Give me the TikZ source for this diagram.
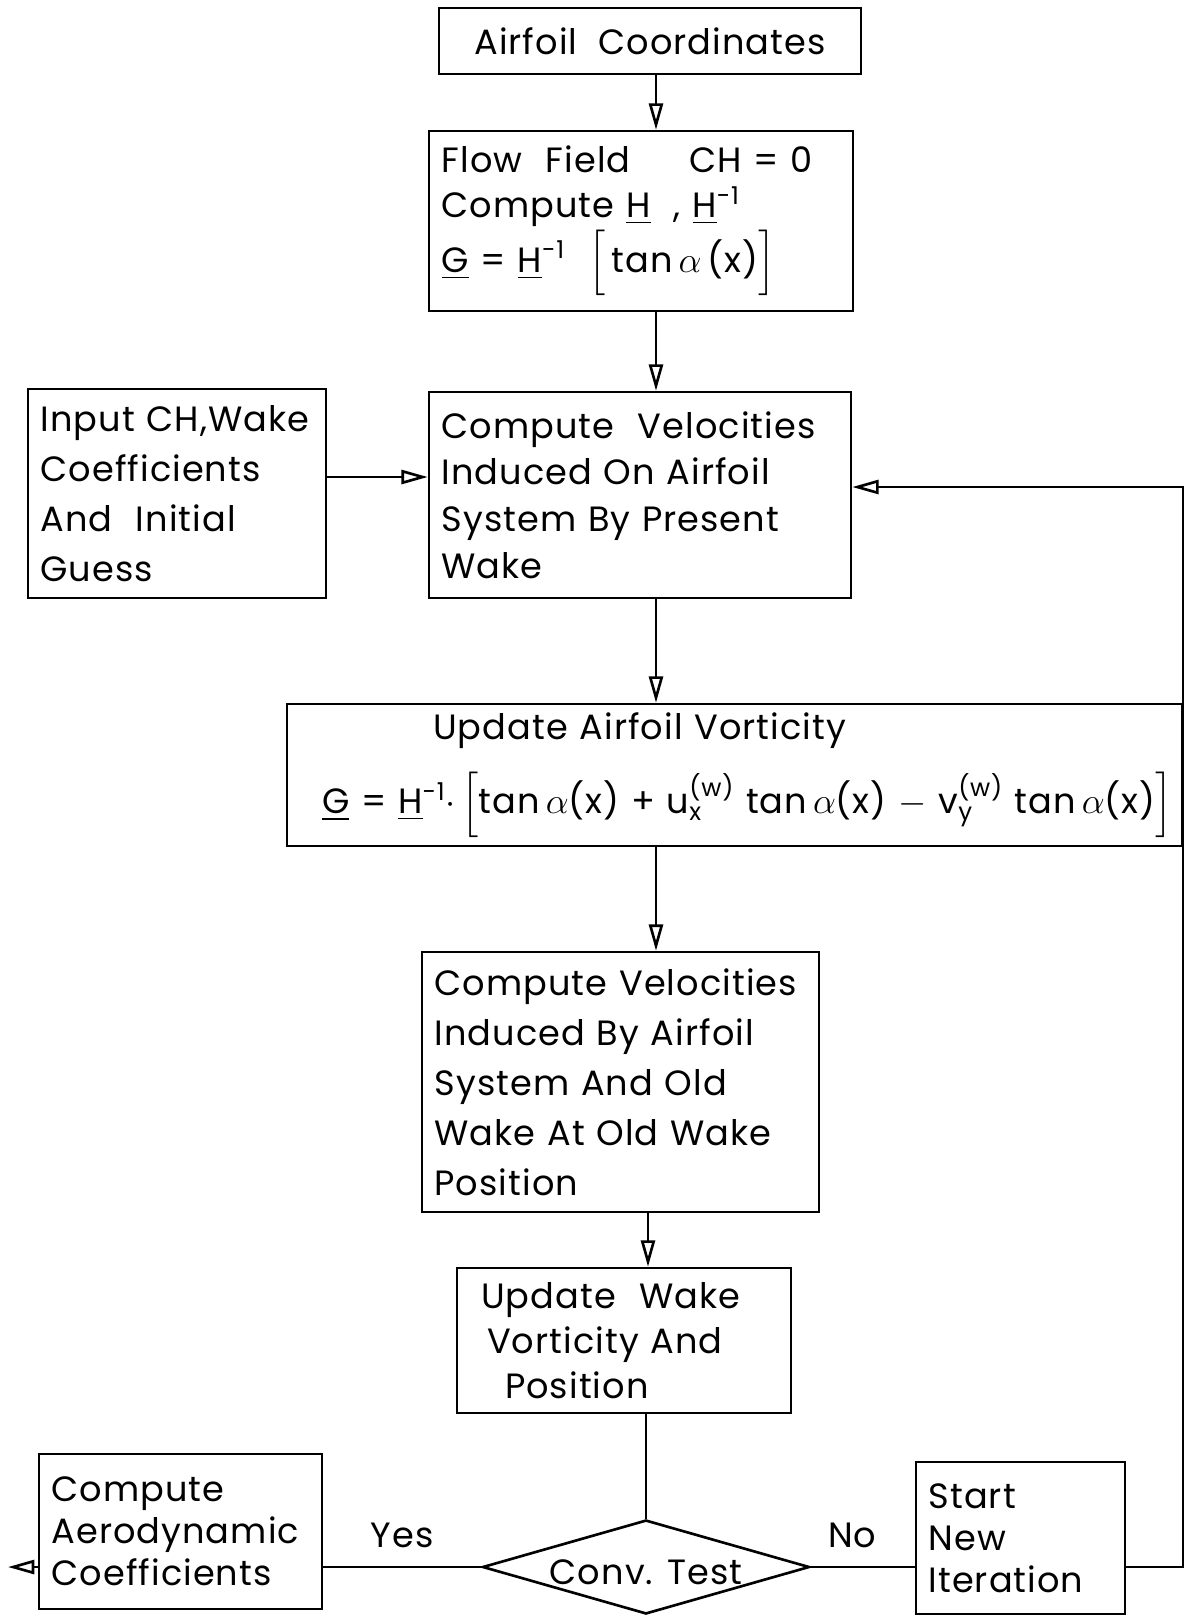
\documentclass[tikz,border=0pt]{standalone}
\usepackage{fontspec}
\usepackage{amsmath}
\setmainfont[LetterSpace=3]{Poppins}
\usetikzlibrary{arrows.meta, positioning, shapes.geometric}

\tikzset{
  box/.style={draw, line width=1.5pt, inner xsep=0.25cm, inner ysep=0pt,
    align=left, font=\fontsize{20}{28.5}\selectfont},
  decision/.style={draw, diamond, line width=1.5pt, inner sep=0pt},
  link/.style={line width=1.5pt},
  arr/.style={link, -{Triangle[open, length=15pt, width=8pt]}},
  tag/.style={font=\fontsize{20}{24}\selectfont}
}

\begin{document}
\begin{tikzpicture}[x=0.02cm, y=-0.02cm]
  \useasboundingbox (0,0) rectangle (1185,1617);

  % boxes
  \node[box, align=center, minimum width=8.44cm, minimum height=1.32cm]
    (coords) at (650,41) {Airfoil \ Coordinates};
  \node[box, minimum width=8.48cm, minimum height=3.6cm, text width=7.98cm,
    font=\fontsize{20}{25.5}\selectfont] (flow) at (641,221)
    {Flow \ Field \ \ \ \ CH = 0\\
     Compute \underline{H} \ , \underline{H}\textsuperscript{-1}\\[1pt]
     \underline{G} = \underline{H}\textsuperscript{-1} \ $\Big[$\,tan\,$\alpha$\,(x)$\Big]$};
  \node[box, minimum width=5.96cm, minimum height=4.18cm, text width=5.46cm]
    (input) at (177,493.5)
    {Input CH,Wake\\ Coefficients\\ And \ Initial\\ Guess};
  \node[box, minimum width=8.44cm, minimum height=4.12cm, text width=7.94cm,
    font=\fontsize{20}{26.5}\selectfont] (velwake) at (640,495)
    {Compute \ Velocities\\ Induced On Airfoil\\ System By Present\\ Wake};
  \node[box, minimum width=17.9cm, minimum height=2.84cm, text width=17.4cm]
    (vort) at (734.5,775)
    {\hspace{2.67cm}Update Airfoil Vorticity\\[12pt]
     \hspace{0.45cm}\mbox{\underline{G} = \underline{H}\textsuperscript{-1}$\cdot$\,$\Big[$tan\,$\alpha$(x) +
     u$_{\text{x}}^{\text{(w)}}$ tan\,$\alpha$(x) $-$
     v$_{\text{y}}^{\text{(w)}}$ tan\,$\alpha$(x)$\Big]$}};
  \node[box, minimum width=7.94cm, minimum height=5.2cm, text width=7.44cm]
    (velair) at (620.5,1082)
    {Compute Velocities\\ Induced By Airfoil\\ System And Old\\ Wake At Old Wake\\ Position};
  \node[box, minimum width=6.68cm, minimum height=2.9cm, text width=6.18cm,
    font=\fontsize{20}{25.5}\selectfont] (wake) at (624,1340.5)
    {\hspace{0.23cm}Update \ Wake\\ \hspace{0.35cm}Vorticity And\\ \hspace{0.71cm}Position};
  \node[box, minimum width=5.66cm, minimum height=3.1cm, text width=5.16cm,
    font=\fontsize{20}{24}\selectfont] (aero) at (180.5,1531.5)
    {Compute\\ Aerodynamic\\ Coefficients};
  \node[decision, minimum width=6.54cm, minimum height=1.88cm,
    label={[tag, yshift=-3pt]center:Conv. Test}] (test) at (646,1567) {};
  \node[box, minimum width=4.18cm, minimum height=3.04cm, text width=3.68cm,
    font=\fontsize{20}{24}\selectfont] (start) at (1020.5,1538)
    {Start\\ New\\ Iteration};

  % connectors
  \coordinate (spine) at (656,0);
  \coordinate (spinelow) at (648,0);
  \coordinate (feedin) at (0,477);
  \draw[arr] (coords.south -| spine) -- (flow.north -| spine);
  \draw[arr] (flow.south -| spine) -- (velwake.north -| spine);
  \draw[arr] (velwake.south -| spine) -- (vort.north -| spine);
  \draw[arr] (vort.south -| spine) -- (velair.north -| spine);
  \draw[arr] (velair.south -| spinelow) -- (wake.north -| spinelow);
  \draw[link] (wake.south -| test.north) -- (test.north);
  \draw[arr] (input.east |- feedin) -- (velwake.west |- feedin);

  \draw[link] (test.west) -- node[tag, above=0.25cm] (yes) {Yes} (aero.east |- test);
  \draw[link] (test.east) -- node[tag, above=0.25cm, pos=0.4] (no) {No} (start.west |- test);

  \coordinate (loop) at (1183,487);
  \draw[arr] (start.east |- test) -| (loop) -- (loop -| velwake.east);
  \coordinate (exit) at (8,1567);
  \draw[arr] (aero.west |- test) -- (exit);
\end{tikzpicture}
\end{document}
